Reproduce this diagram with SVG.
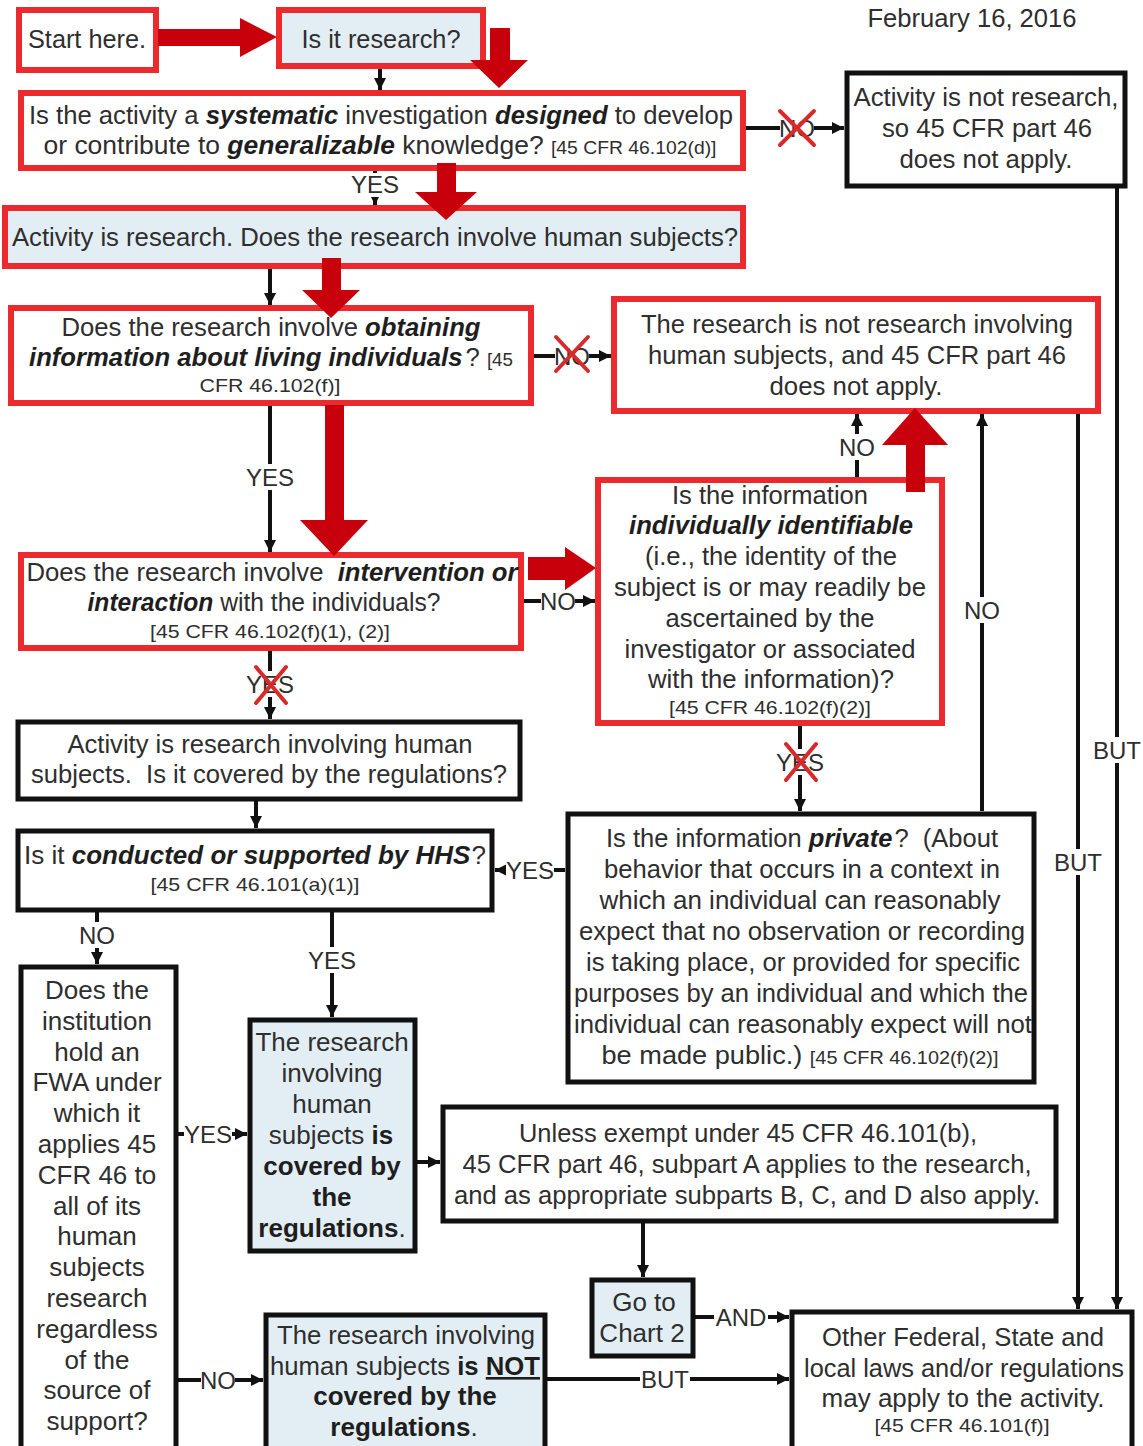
<svg xmlns="http://www.w3.org/2000/svg" width="1143" height="1446" viewBox="0 0 1143 1446">
<style>
text{font-family:"Liberation Sans",Arial,sans-serif;fill:#2e2e2e}
.t{font-size:26px;text-anchor:middle}
.s{font-size:19px}
.bi{font-weight:bold;font-style:italic;fill:#1e1e1e}
.b{font-weight:bold;fill:#1e1e1e}
.u{text-decoration:underline}
.lbl{font-size:24px;text-anchor:middle}
.red{fill:#fff;stroke:#ec2a2e;stroke-width:6}
.redb{fill:#e3eef4;stroke:#ec2a2e;stroke-width:6}
.blk{fill:#fff;stroke:#111;stroke-width:5}
.blkb{fill:#e3eef4;stroke:#111;stroke-width:5}
.ln{stroke:#111;stroke-width:4;fill:none}
.lb{fill:#fff}
.hl{fill:#c8000c}
.x{stroke:#d82a2a;stroke-width:4;stroke-linecap:round}
</style>
<defs>
<marker id="ah" markerWidth="12" markerHeight="12" refX="12" refY="6" orient="auto" markerUnits="userSpaceOnUse"><path d="M0,0 L12,6 L0,12 z" fill="#111"/></marker>
</defs>
<rect width="1143" height="1446" fill="#fff"/>
<text class="t" x="972" y="27" textLength="209" lengthAdjust="spacingAndGlyphs">February 16, 2016</text>

<g id="connectors">
<path class="ln" d="M380,69 V90" marker-end="url(#ah)"/>
<path class="ln" d="M746,128 H844" marker-end="url(#ah)"/>
<path class="ln" d="M375,171 V205" marker-end="url(#ah)"/>
<path class="ln" d="M270,269 V305" marker-end="url(#ah)"/>
<path class="ln" d="M534,356 H611" marker-end="url(#ah)"/>
<path class="ln" d="M270,406 V552" marker-end="url(#ah)"/>
<path class="ln" d="M524,601 H595" marker-end="url(#ah)"/>
<path class="ln" d="M857,477 V414" marker-end="url(#ah)"/>
<path class="ln" d="M982,811 V414" marker-end="url(#ah)"/>
<path class="ln" d="M800,726 V811" marker-end="url(#ah)"/>
<path class="ln" d="M270,651 V719" marker-end="url(#ah)"/>
<path class="ln" d="M256,801 V828" marker-end="url(#ah)"/>
<path class="ln" d="M565,870 H495" marker-end="url(#ah)"/>
<path class="ln" d="M97,912 V964" marker-end="url(#ah)"/>
<path class="ln" d="M332,912 V1017" marker-end="url(#ah)"/>
<path class="ln" d="M178,1134 H247" marker-end="url(#ah)"/>
<path class="ln" d="M178,1380 H263" marker-end="url(#ah)"/>
<path class="ln" d="M417,1162 H440" marker-end="url(#ah)"/>
<path class="ln" d="M643,1223 V1277" marker-end="url(#ah)"/>
<path class="ln" d="M695,1317 H789" marker-end="url(#ah)"/>
<path class="ln" d="M547,1379 H789" marker-end="url(#ah)"/>
<path class="ln" d="M1117,186 V1309" marker-end="url(#ah)"/>
<path class="ln" d="M1078,414 V1309" marker-end="url(#ah)"/>
<rect class="lb" x="780" y="116" width="34" height="24"/><text class="lbl" x="797" y="137">NO</text>
<rect class="lb" x="352" y="173" width="46" height="24"/><text class="lbl" x="375" y="193">YES</text>
<rect class="lb" x="555" y="344" width="34" height="24"/><text class="lbl" x="572" y="365">NO</text>
<rect class="lb" x="246" y="464" width="48" height="26"/><text class="lbl" x="270" y="486">YES</text>
<rect class="lb" x="541" y="589" width="34" height="24"/><text class="lbl" x="558" y="610">NO</text>
<rect class="lb" x="840" y="434" width="34" height="26"/><text class="lbl" x="857" y="456">NO</text>
<rect class="lb" x="965" y="597" width="34" height="26"/><text class="lbl" x="982" y="619">NO</text>
<rect class="lb" x="776" y="749" width="48" height="26"/><text class="lbl" x="800" y="771">YES</text>
<rect class="lb" x="246" y="671" width="48" height="26"/><text class="lbl" x="270" y="693">YES</text>
<rect class="lb" x="506" y="858" width="48" height="24"/><text class="lbl" x="530" y="879">YES</text>
<rect class="lb" x="80" y="922" width="34" height="26"/><text class="lbl" x="97" y="944">NO</text>
<rect class="lb" x="308" y="947" width="48" height="26"/><text class="lbl" x="332" y="969">YES</text>
<rect class="lb" x="184" y="1122" width="48" height="24"/><text class="lbl" x="208" y="1143">YES</text>
<rect class="lb" x="201" y="1368" width="34" height="24"/><text class="lbl" x="218" y="1389">NO</text>
<rect class="lb" x="714" y="1305" width="54" height="24"/><text class="lbl" x="741" y="1326">AND</text>
<rect class="lb" x="640" y="1367" width="50" height="24"/><text class="lbl" x="665" y="1388">BUT</text>
<rect class="lb" x="1092" y="737" width="50" height="26"/><text class="lbl" x="1117" y="759">BUT</text>
<rect class="lb" x="1053" y="849" width="50" height="26"/><text class="lbl" x="1078" y="871">BUT</text>
</g>

<g id="n1"><rect class="red" x="19" y="10" width="137" height="60"/>
<text class="t" x="87" y="48" textLength="118" lengthAdjust="spacingAndGlyphs">Start here.</text></g>
<g id="n2"><rect class="redb" x="279" y="10" width="204" height="56"/>
<text class="t" x="381" y="48" textLength="159" lengthAdjust="spacingAndGlyphs">Is it research?</text></g>
<g id="n3"><rect class="red" x="21" y="93" width="722" height="75"/>
<text class="t" x="381" y="124" textLength="704" lengthAdjust="spacingAndGlyphs">Is the activity a <tspan class="bi">systematic</tspan> investigation <tspan class="bi">designed</tspan> to develop</text>
<text class="t" x="380" y="154" textLength="673" lengthAdjust="spacingAndGlyphs">or contribute to <tspan class="bi">generalizable</tspan> knowledge? <tspan class="s">[45 CFR 46.102(d)]</tspan></text></g>
<g id="n4"><rect class="blk" x="847" y="73" width="278" height="113"/>
<text class="t" x="986" y="106" textLength="265" lengthAdjust="spacingAndGlyphs">Activity is not research,</text>
<text class="t" x="987" y="137" textLength="210" lengthAdjust="spacingAndGlyphs">so 45 CFR part 46</text>
<text class="t" x="986" y="168" textLength="173" lengthAdjust="spacingAndGlyphs">does not apply.</text></g>
<g id="n5"><rect class="redb" x="5" y="208" width="738" height="58"/>
<text class="t" x="375" y="246" textLength="726" lengthAdjust="spacingAndGlyphs">Activity is research. Does the research involve human subjects?</text></g>
<g id="n6"><rect class="red" x="11" y="308" width="520" height="95"/>
<text class="t" x="271" y="336" textLength="419" lengthAdjust="spacingAndGlyphs">Does the research involve <tspan class="bi">obtaining</tspan></text>
<text class="t" x="271" y="366" textLength="484" lengthAdjust="spacingAndGlyphs"><tspan class="bi">information about living individuals</tspan><tspan dx="3">?</tspan> <tspan class="s">[45</tspan></text>
<text class="t s" x="270" y="392" textLength="141" lengthAdjust="spacingAndGlyphs">CFR 46.102(f)]</text></g>
<g id="n7"><rect class="red" x="614" y="299" width="484" height="112"/>
<text class="t" x="857" y="333" textLength="432" lengthAdjust="spacingAndGlyphs">The research is not research involving</text>
<text class="t" x="857" y="364" textLength="418" lengthAdjust="spacingAndGlyphs">human subjects, and 45 CFR part 46</text>
<text class="t" x="856" y="395" textLength="173" lengthAdjust="spacingAndGlyphs">does not apply.</text></g>
<g id="n8"><rect class="red" x="21" y="555" width="500" height="93"/>
<text class="t" x="272" y="581" textLength="491" lengthAdjust="spacingAndGlyphs">Does the research involve &#160;<tspan class="bi">intervention or</tspan></text>
<text class="t" x="264" y="611" textLength="353" lengthAdjust="spacingAndGlyphs"><tspan class="bi">interaction</tspan> with the individuals?</text>
<text class="t s" x="270" y="638" textLength="240" lengthAdjust="spacingAndGlyphs">[45 CFR 46.102(f)(1), (2)]</text></g>
<g id="n9"><rect class="red" x="598" y="480" width="344" height="243"/>
<text class="t" x="770" y="504" textLength="196" lengthAdjust="spacingAndGlyphs">Is the information</text>
<text class="t" x="771" y="534" textLength="284" lengthAdjust="spacingAndGlyphs"><tspan class="bi">individually identifiable</tspan></text>
<text class="t" x="771" y="565" textLength="252" lengthAdjust="spacingAndGlyphs">(i.e., the identity of the</text>
<text class="t" x="770" y="596" textLength="312" lengthAdjust="spacingAndGlyphs">subject is or may readily be</text>
<text class="t" x="770" y="627" textLength="209" lengthAdjust="spacingAndGlyphs">ascertained by the</text>
<text class="t" x="770" y="658" textLength="291" lengthAdjust="spacingAndGlyphs">investigator or associated</text>
<text class="t" x="771" y="688" textLength="246" lengthAdjust="spacingAndGlyphs">with the information)?</text>
<text class="t s" x="770" y="714" textLength="202" lengthAdjust="spacingAndGlyphs">[45 CFR 46.102(f)(2)]</text></g>
<g id="n10"><rect class="blk" x="18" y="722" width="502" height="77"/>
<text class="t" x="270" y="753" textLength="405" lengthAdjust="spacingAndGlyphs">Activity is research involving human</text>
<text class="t" x="269" y="783" textLength="476" lengthAdjust="spacingAndGlyphs">subjects. &#160;Is it covered by the regulations?</text></g>
<g id="n11"><rect class="blk" x="18" y="831" width="474" height="79"/>
<text class="t" x="255" y="864">Is it <tspan class="bi">conducted or supported by HHS</tspan><tspan dx="1">?</tspan></text>
<text class="t s" x="255" y="891" textLength="209" lengthAdjust="spacingAndGlyphs">[45 CFR 46.101(a)(1)]</text></g>
<g id="n12"><rect class="blk" x="568" y="814" width="466" height="268"/>
<text class="t" x="802" y="847" textLength="392" lengthAdjust="spacingAndGlyphs">Is the information <tspan class="bi">private</tspan><tspan dx="2">?</tspan> &#160;(About</text>
<text class="t" x="802" y="878" textLength="396" lengthAdjust="spacingAndGlyphs">behavior that occurs in a context in</text>
<text class="t" x="800" y="909" textLength="401" lengthAdjust="spacingAndGlyphs">which an individual can reasonably</text>
<text class="t" x="802" y="940" textLength="446" lengthAdjust="spacingAndGlyphs">expect that no observation or recording</text>
<text class="t" x="803" y="971" textLength="434" lengthAdjust="spacingAndGlyphs">is taking place, or provided for specific</text>
<text class="t" x="801" y="1002" textLength="454" lengthAdjust="spacingAndGlyphs">purposes by an individual and which the</text>
<text class="t" x="803" y="1033" textLength="458" lengthAdjust="spacingAndGlyphs">individual can reasonably expect will not</text>
<text class="t" x="800" y="1064" textLength="397" lengthAdjust="spacingAndGlyphs">be made public.) <tspan class="s">[45 CFR 46.102(f)(2)]</tspan></text></g>
<g id="n13"><rect class="blk" x="21" y="967" width="155" height="490"/>
<text class="t" x="97" y="999">Does the</text>
<text class="t" x="97" y="1030">institution</text>
<text class="t" x="97" y="1061">hold an</text>
<text class="t" x="97" y="1091">FWA under</text>
<text class="t" x="97" y="1122">which it</text>
<text class="t" x="97" y="1153">applies 45</text>
<text class="t" x="97" y="1184">CFR 46 to</text>
<text class="t" x="97" y="1215">all of its</text>
<text class="t" x="97" y="1245">human</text>
<text class="t" x="97" y="1276">subjects</text>
<text class="t" x="97" y="1307">research</text>
<text class="t" x="97" y="1338">regardless</text>
<text class="t" x="97" y="1369">of the</text>
<text class="t" x="97" y="1399">source of</text>
<text class="t" x="97" y="1430">support?</text></g>
<g id="n14"><rect class="blkb" x="250" y="1020" width="165" height="231"/>
<text class="t" x="332" y="1051">The research</text>
<text class="t" x="332" y="1082">involving</text>
<text class="t" x="332" y="1113">human</text>
<text class="t" x="331" y="1144">subjects <tspan class="b">is</tspan></text>
<text class="t b" x="332" y="1175">covered by</text>
<text class="t b" x="332" y="1206">the</text>
<text class="t" x="332" y="1237"><tspan class="b">regulations</tspan>.</text></g>
<g id="n15"><rect class="blk" x="443" y="1107" width="613" height="114"/>
<text class="t" x="748" y="1142" textLength="458" lengthAdjust="spacingAndGlyphs">Unless exempt under 45 CFR 46.101(b),</text>
<text class="t" x="747" y="1173" textLength="569" lengthAdjust="spacingAndGlyphs">45 CFR part 46, subpart A applies to the research,</text>
<text class="t" x="747" y="1204" textLength="586" lengthAdjust="spacingAndGlyphs">and as appropriate subparts B, C, and D also apply.</text></g>
<g id="n16"><rect class="blkb" x="592" y="1280" width="101" height="76"/>
<text class="t" x="644" y="1311">Go to</text>
<text class="t" x="642" y="1342">Chart 2</text></g>
<g id="n17"><rect class="blkb" x="266" y="1315" width="279" height="140"/>
<text class="t" x="406" y="1344" textLength="258" lengthAdjust="spacingAndGlyphs">The research involving</text>
<text class="t" x="405" y="1375" textLength="270" lengthAdjust="spacingAndGlyphs">human subjects <tspan class="b">is</tspan> <tspan class="b u">NOT</tspan></text>
<text class="t b" x="405" y="1405">covered by the</text>
<text class="t" x="404" y="1436"><tspan class="b">regulations</tspan>.</text></g>
<g id="n18"><rect class="blk" x="792" y="1312" width="340" height="145"/>
<text class="t" x="963" y="1346" textLength="282" lengthAdjust="spacingAndGlyphs">Other Federal, State and</text>
<text class="t" x="964" y="1377" textLength="320" lengthAdjust="spacingAndGlyphs">local laws and/or regulations</text>
<text class="t" x="963" y="1407" textLength="283" lengthAdjust="spacingAndGlyphs">may apply to the activity.</text>
<text class="t s" x="962" y="1432" textLength="175" lengthAdjust="spacingAndGlyphs">[45 CFR 46.101(f)]</text></g>

<g id="highlights">
<polygon class="hl" points="158,29 240,29 240,18 277,37 240,57 240,46 158,46"/>
<polygon class="hl" points="490,28 510,28 510,60 528,60 499,88 470,60 490,60"/>
<polygon class="hl" points="437,163 456,163 456,192 477,192 446,220 415,192 437,192"/>
<polygon class="hl" points="322,258 341,258 341,290 360,290 331,318 302,290 322,290"/>
<polygon class="hl" points="325,405 344,405 344,520 368,520 334,556 300,520 325,520"/>
<polygon class="hl" points="528,557 565,557 565,547 596,568 565,590 565,580 528,580"/>
<polygon class="hl" points="906,492 925,492 925,445 948,445 915,408 882,445 906,445"/>
<path class="x" d="M780,111 L814,145 M814,111 L780,145"/>
<path class="x" d="M556,337 L588,371 M588,337 L556,371"/>
<path class="x" d="M256,667 L286,703 M286,667 L256,703"/>
<path class="x" d="M786,744 L816,780 M816,744 L786,780"/>
</g>
</svg>
